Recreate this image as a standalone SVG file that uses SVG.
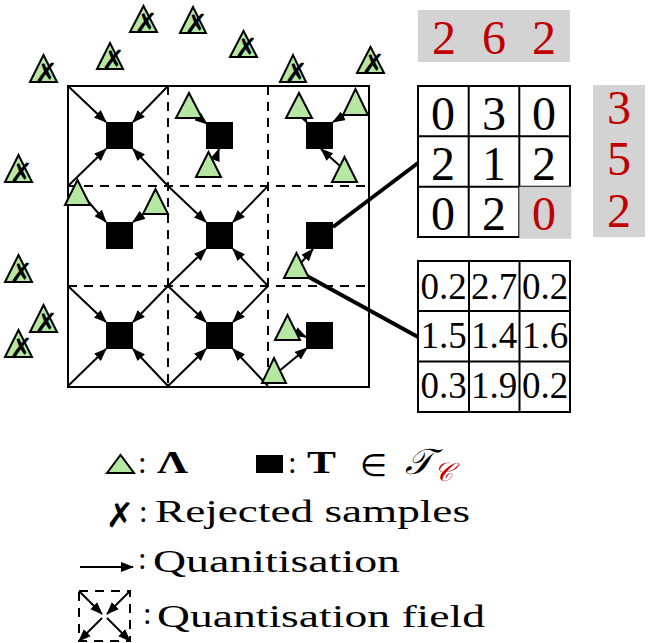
<svg xmlns="http://www.w3.org/2000/svg" width="662" height="643" viewBox="0 0 662 643">
<defs>
<style>
.tri{fill:#b5e6a2;stroke:#000;stroke-width:2;stroke-linejoin:miter}
.sq{fill:#000}
.arr{stroke:#000;stroke-width:2;fill:none;marker-end:url(#ah)}
.dash{stroke:#000;stroke-width:2;stroke-dasharray:9 7;fill:none}
.box{stroke:#000;stroke-width:2;fill:none}
.thick{stroke:#000;stroke-width:4;fill:none}
.x{font-family:"DejaVu Sans",sans-serif;font-weight:bold;font-size:28px;fill:#000;text-anchor:middle}
.big{font-family:"Liberation Serif",serif;font-size:48px;text-anchor:middle}
.red{fill:#c00000}
.mid{font-family:"Liberation Serif",serif;font-size:37px;text-anchor:middle;fill:#000}
.lg{font-family:"Liberation Serif",serif;font-size:31px;fill:#000}
.gray{fill:#d3d3d3}
</style>
<marker id="ah" markerWidth="13" markerHeight="10" refX="12" refY="5" orient="auto" markerUnits="userSpaceOnUse"><path d="M0,0 L13,5 L0,10 z" fill="#000"/></marker>
</defs>
<rect width="662" height="643" fill="#fff"/>

<g id="rejected">
<polygon class="tri" points="130,32 143.5,6 157,32"/><text class="x" x="146" y="33">✗</text>
<polygon class="tri" points="180,33 193,7 206,33"/><text class="x" x="196" y="34">✗</text>
<polygon class="tri" points="230,57 243.5,31 257,57"/><text class="x" x="246" y="58">✗</text>
<polygon class="tri" points="97,69 110,43 123,69"/><text class="x" x="113" y="70">✗</text>
<polygon class="tri" points="30,82 43.5,55 57,82"/><text class="x" x="46" y="83">✗</text>
<polygon class="tri" points="280,82 293,55 306,82"/><text class="x" x="296" y="83">✗</text>
<polygon class="tri" points="357,73 370.5,47 384,73"/><text class="x" x="373" y="74">✗</text>
<polygon class="tri" points="5,182 18.5,155 32,182"/><text class="x" x="21" y="183">✗</text>
<polygon class="tri" points="5,282 18.5,255 32,282"/><text class="x" x="21" y="283">✗</text>
<polygon class="tri" points="30,332 43.5,305 57,332"/><text class="x" x="46" y="333">✗</text>
<polygon class="tri" points="5,357 18.5,330 32,357"/><text class="x" x="21" y="358">✗</text>
</g>

<g id="grid">
<line class="dash" x1="168" y1="86" x2="168" y2="387"/>
<line class="dash" x1="268" y1="86" x2="268" y2="387"/>
<line class="dash" x1="68" y1="186" x2="369" y2="186"/>
<line class="dash" x1="68" y1="286" x2="369" y2="286"/>
<rect class="box" x="68" y="86" width="301" height="301"/>
</g>

<g id="connectors">
<line class="arr" x1="68" y1="86" x2="106" y2="122"/>
<line class="arr" x1="168" y1="86" x2="133" y2="122"/>
<line class="arr" x1="68" y1="186" x2="106" y2="149"/>
<line class="arr" x1="168" y1="186" x2="133" y2="149"/>
<line class="arr" x1="168" y1="186" x2="206" y2="222"/>
<line class="arr" x1="268" y1="186" x2="233" y2="222"/>
<line class="arr" x1="168" y1="286" x2="206" y2="249"/>
<line class="arr" x1="268" y1="286" x2="233" y2="249"/>
<line class="arr" x1="68" y1="286" x2="106" y2="322"/>
<line class="arr" x1="168" y1="286" x2="133" y2="322"/>
<line class="arr" x1="68" y1="386" x2="106" y2="349"/>
<line class="arr" x1="168" y1="386" x2="133" y2="349"/>
<line class="arr" x1="168" y1="286" x2="206" y2="322"/>
<line class="arr" x1="268" y1="286" x2="233" y2="322"/>
<line class="arr" x1="168" y1="386" x2="206" y2="349"/>
<line class="arr" x1="268" y1="386" x2="233" y2="349"/>
<line class="arr" x1="192" y1="112" x2="207" y2="124"/>
<line class="arr" x1="215" y1="160" x2="219" y2="149"/>
<line class="arr" x1="300" y1="110" x2="307" y2="123"/>
<line class="arr" x1="350" y1="112" x2="333" y2="122"/>
<line class="arr" x1="340" y1="166" x2="321" y2="149"/>
<line class="arr" x1="86" y1="199" x2="106" y2="222"/>
<line class="arr" x1="152" y1="208" x2="133" y2="222"/>
<line class="arr" x1="300" y1="264" x2="313" y2="249"/>
<line class="arr" x1="290" y1="329" x2="306" y2="337"/>
<line class="arr" x1="278" y1="372" x2="307" y2="348"/>
<line class="thick" x1="333" y1="227" x2="418" y2="163"/>
<line class="thick" x1="307" y1="276" x2="418" y2="337"/>
</g>

<g id="squares">
<rect class="sq" x="106" y="122" width="27" height="27"/>
<rect class="sq" x="206" y="122" width="27" height="27"/>
<rect class="sq" x="306" y="122" width="27" height="27"/>
<rect class="sq" x="106" y="222" width="27" height="27"/>
<rect class="sq" x="206" y="222" width="27" height="27"/>
<rect class="sq" x="306" y="222" width="27" height="27"/>
<rect class="sq" x="106" y="322" width="27" height="27"/>
<rect class="sq" x="206" y="322" width="27" height="27"/>
<rect class="sq" x="306" y="322" width="27" height="27"/>
</g>

<g id="samples">
<polygon class="tri" points="176,118 189,93 202,118"/>
<polygon class="tri" points="196,177 208.5,152 221,177"/>
<polygon class="tri" points="286,118 299,93 312,118"/>
<polygon class="tri" points="343,115 355.5,89 368,115"/>
<polygon class="tri" points="332,182 344.5,157 357,182"/>
<polygon class="tri" points="65,205 77.5,180 90,205"/>
<polygon class="tri" points="143,214 155.5,189 168,214"/>
<polygon class="tri" points="284,278 296.5,253 309,278"/>
<polygon class="tri" points="275,340 287.5,315 300,340"/>
<polygon class="tri" points="262,383 274,358 286,383"/>
</g>

<g id="colsum">
<rect class="gray" x="418" y="10" width="152" height="52"/>
<text class="big red" x="444" y="54">2</text>
<text class="big red" x="494" y="54">6</text>
<text class="big red" x="544" y="54">2</text>
</g>

<g id="rowsum">
<rect class="gray" x="593" y="85" width="52" height="152"/>
<text class="big red" x="619" y="124">3</text>
<text class="big red" x="619" y="175">5</text>
<text class="big red" x="619" y="227">2</text>
</g>

<g id="intmatrix">
<rect x="418" y="86" width="152" height="151" fill="#fff" stroke="#000" stroke-width="2"/>
<line class="box" x1="468.7" y1="86" x2="468.7" y2="237"/>
<line class="box" x1="519.3" y1="86" x2="519.3" y2="237"/>
<line class="box" x1="418" y1="136.3" x2="570" y2="136.3"/>
<line class="box" x1="418" y1="186.7" x2="570" y2="186.7"/>
<rect class="gray" x="519.3" y="186.7" width="52" height="52"/>
<text class="big" x="443" y="130">0</text>
<text class="big" x="494" y="130">3</text>
<text class="big" x="544" y="130">0</text>
<text class="big" x="443" y="180">2</text>
<text class="big" x="494" y="180">1</text>
<text class="big" x="544" y="180">2</text>
<text class="big" x="443" y="230">0</text>
<text class="big" x="494" y="230">2</text>
<text class="big red" x="544" y="230">0</text>
</g>

<g id="realmatrix">
<rect class="box" x="418" y="261" width="152" height="151"/>
<line class="box" x1="469" y1="261" x2="469" y2="412"/>
<line class="box" x1="519.5" y1="261" x2="519.5" y2="412"/>
<line class="box" x1="418" y1="311" x2="570" y2="311"/>
<line class="box" x1="418" y1="361.5" x2="570" y2="361.5"/>
<text class="mid" x="443.5" y="299">0.2</text>
<text class="mid" x="494" y="299">2.7</text>
<text class="mid" x="545" y="299">0.2</text>
<text class="mid" x="443.5" y="348">1.5</text>
<text class="mid" x="494" y="348">1.4</text>
<text class="mid" x="545" y="348">1.6</text>
<text class="mid" x="443.5" y="398">0.3</text>
<text class="mid" x="494" y="398">1.9</text>
<text class="mid" x="545" y="398">0.2</text>
</g>

<g id="legend">
<polygon class="tri" points="107,473 120.5,455 134,473"/>
<text class="lg" x="138" y="473" font-size="26">:</text>
<text class="lg" x="157" y="473" font-size="28" font-weight="bold" textLength="31" lengthAdjust="spacingAndGlyphs">Λ</text>
<rect class="sq" x="256" y="455" width="27" height="18"/>
<text class="lg" x="288" y="473" font-size="26">:</text>
<text class="lg" x="307" y="473" font-size="28" font-weight="bold" textLength="29" lengthAdjust="spacingAndGlyphs">T</text>
<text class="lg" x="360" y="476" font-size="30">∈</text>
<text x="405" y="474" font-family="'DejaVu Serif','Noto Sans',serif" font-style="italic" font-size="36">𝒯</text>
<text x="434" y="481" font-family="'DejaVu Serif','Noto Sans',serif" font-style="italic" font-size="26" fill="#c00000">𝒞</text>
<text x="120" y="527" font-family="'DejaVu Sans',sans-serif" font-weight="bold" font-size="34" text-anchor="middle">✗</text>
<text class="lg" x="139" y="522" font-size="26">:</text>
<text class="lg" x="155" y="522" textLength="315" lengthAdjust="spacingAndGlyphs">Rejected samples</text>
<line class="arr" x1="80" y1="567" x2="133" y2="567"/>
<text class="lg" x="138" y="569" font-size="26">:</text>
<text class="lg" x="153" y="572" textLength="247" lengthAdjust="spacingAndGlyphs">Quanitisation</text>
<rect class="dash" x="79" y="591" width="51" height="50" stroke-dasharray="8 9"/>
<line class="arr" x1="79" y1="591" x2="102" y2="614"/>
<line class="arr" x1="130" y1="591" x2="107" y2="614"/>
<line class="arr" x1="102" y1="618" x2="79" y2="641"/>
<line class="arr" x1="107" y1="618" x2="130" y2="641"/>
<text class="lg" x="143" y="624" font-size="26">:</text>
<text class="lg" x="157" y="627" textLength="328" lengthAdjust="spacingAndGlyphs">Quantisation field</text>
</g>
</svg>
